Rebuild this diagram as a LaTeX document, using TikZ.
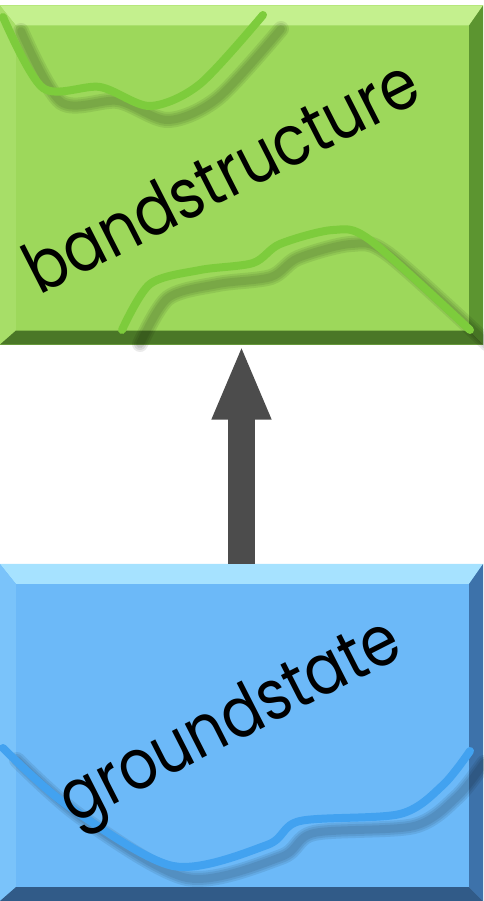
\documentclass[tikz,border=0pt]{standalone}
\usepackage{fontspec}
\setmainfont{Poppins}
\newfontfamily\labelfont[FakeStretch=0.86]{Poppins}
\usetikzlibrary{arrows.meta, positioning}

\definecolor{bandface}{HTML}{9DD85B}
\definecolor{bandlight}{HTML}{C4F08E}
\definecolor{banddark}{HTML}{5C9530}
\definecolor{bandline}{HTML}{7DCC3C}
\definecolor{gsface}{HTML}{6CB9F8}
\definecolor{gslight}{HTML}{A6E2FF}
\definecolor{gsdark}{HTML}{3D72AA}
\definecolor{gsline}{HTML}{42A2F0}

% bevelled edge around a box node: #1 node, #2 face, #3 light, #4 dark
\newcommand{\bevel}[4]{
  \fill[#3] (#1.north west) -- (#1.north east)
    -- ([xshift=-14pt,yshift=-20pt]#1.north east) -- ([xshift=16pt,yshift=-20pt]#1.north west) -- cycle;
  \fill[#2!75!#3] (#1.north west) -- ([xshift=16pt,yshift=-20pt]#1.north west)
    -- ([xshift=16pt,yshift=14pt]#1.south west) -- (#1.south west) -- cycle;
  \fill[#4] (#1.north east) -- ([xshift=-14pt,yshift=-20pt]#1.north east)
    -- ([xshift=-14pt,yshift=14pt]#1.south east) -- (#1.south east) -- cycle;
  \fill[#4!80!black] (#1.south west) -- ([xshift=16pt,yshift=14pt]#1.south west)
    -- ([xshift=-14pt,yshift=14pt]#1.south east) -- (#1.south east) -- cycle;
}

\begin{document}
\begin{tikzpicture}[x=1pt, y=-1pt,
    box/.style={rectangle, inner sep=0pt, minimum width=483pt},
    wave/.style={line width=8pt, line cap=round},
    waveshadow/.style={line width=#1, line cap=round, black, opacity=0.08},
    label/.style={font=\labelfont\fontsize{70}{70}\selectfont, rotate=27, anchor=base, inner sep=0pt},
    flow/.style={line width=27pt, black!70, -{Triangle[length=75pt, width=54pt]}}]
  \useasboundingbox (0,0) rectangle (483,901);

  \node[box, minimum height=339pt, fill=bandface] (band) at (241.5,175) {};
  \node[box, minimum height=337pt, fill=gsface] (ground) at (241.5,732.5) {};
  \bevel{band}{bandface}{bandlight}{banddark}
  \bevel{ground}{gsface}{gslight}{gsdark}

  % soft shadows under the lines
  \begin{scope}[shift={(18,14)}]
    \foreach \w in {16pt, 12pt, 8pt} {
      \draw[waveshadow=\w] plot[smooth] coordinates {(3,17) (43,88) (100,87) (150,106) (200,84) (263,15)};
      \draw[waveshadow=\w] plot[smooth] coordinates {(122,330) (150,284) (200,270) (253,263) (280,244) (333,230) (370,240) (470,330)};
    }
  \end{scope}
  \begin{scope}[shift={(14,12)}]
    \foreach \w in {16pt, 12pt, 8pt}
      \draw[waveshadow=\w] plot[smooth] coordinates {(3,748) (67,805) (173,866) (267,845) (300,821) (400,814) (443,785) (470,751)};
  \end{scope}

  % band lines
  \draw[wave, bandline] plot[smooth] coordinates {(3,17) (43,88) (100,87) (150,106) (200,84) (263,15)};
  \draw[wave, bandline] plot[smooth] coordinates {(122,330) (150,284) (200,270) (253,263) (280,244) (333,230) (370,240) (470,330)};

  % ground state line
  \draw[wave, gsline] plot[smooth] coordinates {(3,748) (67,805) (173,866) (267,845) (300,821) (400,814) (443,785) (470,751)};

  \node[label] (bandtext) at (232,198) {bandstructure};
  \node[label] (gstext) at (240,740) {groundstate};

  \draw[flow] (ground.north) -- (band.south);
\end{tikzpicture}
\end{document}
